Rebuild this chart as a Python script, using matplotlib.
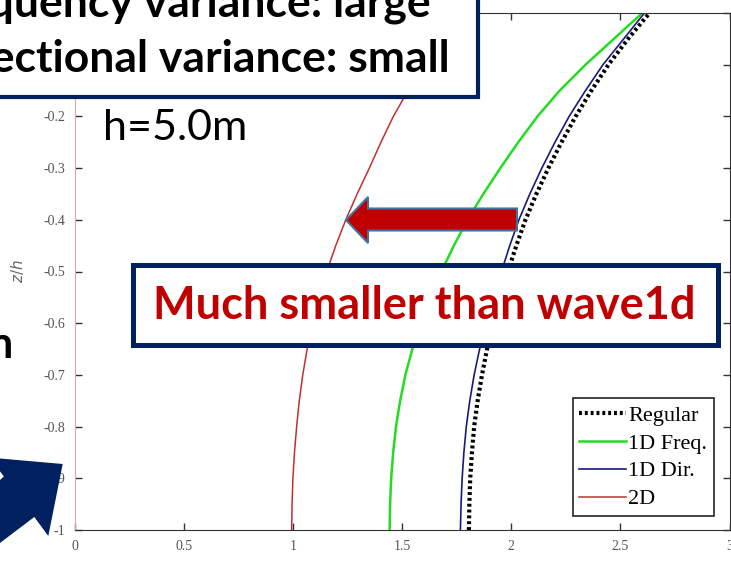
import numpy as np
import matplotlib
matplotlib.use('Agg')
import matplotlib.pyplot as plt
from matplotlib.patches import Rectangle, Polygon

W, H = 731, 562

# depth levels z/h and velocity profiles for each sea state
z = [-1.0, -0.95, -0.9, -0.85, -0.8, -0.75, -0.7, -0.65, -0.6, -0.55, -0.5,
     -0.45, -0.4, -0.35, -0.3, -0.25, -0.2, -0.15, -0.1, -0.05, 0.0]
regular = [1.806, 1.808, 1.812, 1.820, 1.830, 1.846, 1.866, 1.889, 1.915, 1.948, 1.985,
           2.023, 2.065, 2.115, 2.170, 2.230, 2.295, 2.367, 2.445, 2.535, 2.633]
freq_1d = [1.443, 1.445, 1.450, 1.459, 1.472, 1.491, 1.515, 1.547, 1.585, 1.630, 1.680,
           1.737, 1.800, 1.872, 1.950, 2.032, 2.120, 2.222, 2.340, 2.470, 2.600]
dir_1d = [1.767, 1.770, 1.775, 1.783, 1.794, 1.810, 1.830, 1.855, 1.885, 1.918, 1.955,
          1.993, 2.035, 2.085, 2.140, 2.200, 2.265, 2.340, 2.420, 2.515, 2.610]
two_d = [0.994, 0.996, 1.000, 1.007, 1.017, 1.029, 1.045, 1.065, 1.090, 1.120, 1.155,
         1.196, 1.242, 1.294, 1.350, 1.403, 1.460, 1.527, 1.600, 1.685, 1.780]

xticks = [0, 0.5, 1, 1.5, 2, 2.5, 3]
xticklabels = ['0', '0.5', '1', '1.5', '2', '2.5', '3']
yticks = [-1, -0.9, -0.8, -0.7, -0.6, -0.5, -0.4, -0.3, -0.2, -0.1, 0]
yticklabels = ['-1', '-0.9', '-0.8', '-0.7', '-0.6', '-0.5', '-0.4', '-0.3', '-0.2', '-0.1', '0']

navy = '#002060'
darkred = '#C00000'


def px(x, y):
    # pixel position (from top-left) -> figure fraction
    return x / W, 1 - y / H


fig = plt.figure(figsize=(W / 100, H / 100), dpi=100)
ax = fig.add_axes([74.6 / W, 1 - 530 / H, 655 / W, 517 / H])

ax.plot(regular, z, color='black', lw=3, ls=(0, (0.7, 0.7)), label='Regular')
ax.plot(freq_1d, z, color='#22dd22', lw=1.8, label='1D Freq.')
ax.plot(dir_1d, z, color='#1a1a7a', lw=1.2, label='1D Dir.')
ax.plot(two_d, z, color='#c03030', lw=1.1, label='2D')

ax.set_xlim(0, 3)
ax.set_ylim(-1, 0)
ax.set_xticks(xticks)
ax.set_xticklabels(xticklabels)
ax.set_yticks(yticks)
ax.set_yticklabels(yticklabels)
ax.tick_params(direction='in', length=5, width=1, top=True, right=True,
               labelsize=10, labelcolor='#555555', color='#333333', pad=7)
for lab in ax.get_xticklabels() + ax.get_yticklabels():
    lab.set_family('Liberation Serif')
for s in ['top', 'right', 'bottom']:
    ax.spines[s].set_color('#333333')
ax.spines['left'].set_color('#e0a8a8')
ax.set_ylabel(r'$z/h$', fontsize=11, color='#666666', labelpad=12)

leg = ax.legend(loc='lower right', bbox_to_anchor=(0.976, 0.027), borderaxespad=0,
                fancybox=False, edgecolor='#222222', framealpha=1,
                prop={'family': 'Liberation Serif', 'size': 16},
                handlelength=2.1, handletextpad=0.1, labelspacing=0.33,
                borderpad=0.3)
leg.get_frame().set_linewidth(1.2)

# top-left callout box
x0, y0 = px(-10, -10)
x1, y1 = px(478, 97)
fig.add_artist(Rectangle((x0, y1), x1 - x0, y0 - y1, transform=fig.transFigure,
                         facecolor='white', edgecolor=navy, lw=3, zorder=5))
fig.text(*px(431, 17), 'Frequency variance: large', ha='right', va='baseline',
         fontsize=32, fontweight='bold', family='Lato', color='black', zorder=6)
fig.text(*px(450, 72), 'Directional variance: small', ha='right', va='baseline',
         fontsize=32, fontweight='bold', family='Lato', color='black', zorder=6)

# clipped text at left edge
fig.text(*px(14, 358), 'Comparison', ha='right', va='baseline',
         fontsize=31, fontweight='bold', family='Lato', color='black', zorder=6)

fig.text(*px(103, 140), 'h=5.0m', ha='left', va='baseline',
         fontsize=31, family='Lato', color='black', zorder=6)

# lower callout box
x0, y0 = px(133, 265)
x1, y1 = px(718, 345)
fig.add_artist(Rectangle((x0, y1), x1 - x0, y0 - y1, transform=fig.transFigure,
                         facecolor='white', edgecolor=navy, lw=3.6, zorder=5))
fig.text(*px(424, 306), 'Much smaller than wave1d', ha='center', va='center',
         fontsize=32.5, fontweight='bold', family='Lato', color=darkred, zorder=6)

# red arrow pointing at the 2D curve
arrow_pts = [(346, 220), (368, 197), (368, 208.5), (517, 208.5),
             (517, 230.5), (368, 230.5), (368, 243)]
fig.add_artist(Polygon([px(*p) for p in arrow_pts], closed=True,
                       transform=fig.transFigure, facecolor=darkred,
                       edgecolor='#41719C', lw=1.5, zorder=5))

# navy block arrow at bottom-left
blue_pts = [(62.7, 464), (48.3, 536), (34.3, 517), (-45, 577), (-90, 560),
            (3.9, 476.5), (-10.4, 457.6)]
fig.add_artist(Polygon([px(*p) for p in blue_pts], closed=True,
                       transform=fig.transFigure, facecolor=navy,
                       edgecolor='none', zorder=5))

fig.savefig('out.png', dpi=100)
